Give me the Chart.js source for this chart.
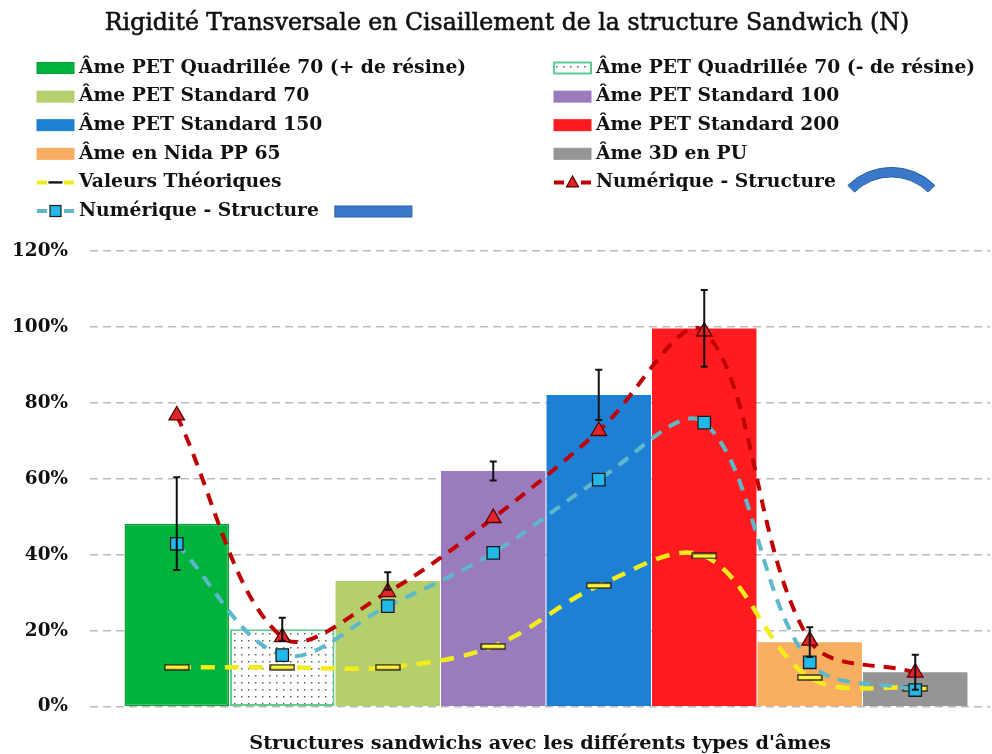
<!DOCTYPE html>
<html lang="fr">
<head>
<meta charset="utf-8">
<title>Rigidité Transversale en Cisaillement de la structure Sandwich</title>
<script src="https://cdn.jsdelivr.net/npm/chart.js@4.4.1/dist/chart.umd.min.js"></script>
<style>
  html, body { margin: 0; padding: 0; background: #ffffff; }
  #wrap { width: 992px; height: 754px; }
</style>
</head>
<body>
<div id="wrap"><canvas id="chart" width="992" height="754"></canvas></div>
<script>
// ---- Data -------------------------------------------------------------
const coreNames = [
  'Âme PET Quadrillée 70 (+ de résine)',
  'Âme PET Quadrillée 70 (- de résine)',
  'Âme PET Standard 70',
  'Âme PET Standard 100',
  'Âme PET Standard 150',
  'Âme PET Standard 200',
  'Âme en Nida PP 65',
  'Âme 3D en PU'
];
// Measured stiffness, relative to the PET Standard 200 core (%)
const measured = [48.2, 20.4, 33.1, 62.1, 82.1, 99.6, 17.0, 9.1];
const measuredError = [12.2, 3.0, 2.3, 2.5, 6.6, 10.1, 3.9, 4.6];
// Theoretical values (%)
const theoretical = [10.4, 10.4, 10.4, 15.9, 31.9, 39.7, 7.7, 4.8];
// Numerical model, curved structure (%)
const numericCurved = [76.7, 18.3, 30.2, 49.7, 72.6, 98.8, 17.4, 9.0];
// Numerical model, flat structure (%)
const numericFlat = [42.9, 13.6, 26.5, 40.5, 59.8, 74.8, 11.7, 4.4];
const yTicks = [0, 20, 40, 60, 80, 100, 120];
const lineNames = ['Valeurs Théoriques', 'Numérique - Structure', 'Numérique - Structure'];
const chartTitle = 'Rigidité Transversale en Cisaillement de la structure Sandwich (N)';
const xAxisTitle = "Structures sandwichs avec les différents types d'âmes";

// ---- Styling helpers ----------------------------------------------------
const FAMILY = '"DejaVu Serif", "Liberation Serif", serif';
const measureCtx = document.createElement('canvas').getContext('2d');
function fitSize(text, weight, width) {
  measureCtx.font = weight + ' 100px ' + FAMILY;
  return 100 * width / measureCtx.measureText(text).width;
}
const titleSize = fitSize(chartTitle, 'normal', 805);
const legendSize = fitSize(lineNames[1], 'bold', 240);
const axisTitleSize = fitSize(xAxisTitle, 'bold', 582);
const tickSize = fitSize('120%', 'bold', 56);

// white fill with a regular grid of small dots
function makeDotPattern() {
  const c = document.createElement('canvas');
  c.width = 7; c.height = 7;
  const g = c.getContext('2d');
  g.fillStyle = '#ffffff';
  g.fillRect(0, 0, 7, 7);
  g.fillStyle = '#56665b';
  g.fillRect(3, 3, 1.5, 1.5);
  return g.createPattern(c, 'repeat');
}
const dotPattern = makeDotPattern();

// flat yellow dash used as the theoretical-value marker
function makeDashMarker(w, h) {
  const c = document.createElement('canvas');
  c.width = w + 2; c.height = h + 2;
  const g = c.getContext('2d');
  g.fillStyle = '#FFF23A';
  g.fillRect(1, 1, w, h);
  g.strokeStyle = '#1a1a1a';
  g.lineWidth = 1.3;
  g.strokeRect(1, 1, w, h);
  return c;
}
const dashMarker = makeDashMarker(24, 5);

const barFill = ['#00B33C', dotPattern, '#B5CF6D', '#9A7BBE', '#1E80D5', '#FF1B1E', '#F8AE60', '#959595'];
const barEdge = ['#0C9C3C', '#5FCB8E', '#B5CF6D', '#9A7BBE', '#1E80D5', '#FF1B1E', '#F8AE60', '#959595'];
const barEdgeWidth = [1.5, 2, 0, 0, 0, 0, 0, 0];

const YELLOW = '#F3EC1C';
const RED = '#C00000';
const CYAN = '#5DB8CC';

const pts = arr => arr.map((v, i) => ({ x: i, y: v }));

// ---- Datasets -------------------------------------------------------------
const barSet = {
  type: 'bar',
  label: 'Rigidité mesurée',
  data: pts(measured),
  backgroundColor: barFill,
  borderColor: barEdge,
  borderWidth: barEdgeWidth,
  borderSkipped: false,
  barPercentage: 0.99,
  categoryPercentage: 1,
  grouped: false,
  order: 4
};
const theoSet = {
  type: 'line',
  label: lineNames[0],
  data: pts(theoretical),
  borderColor: YELLOW,
  borderWidth: 4.5,
  borderDash: [14, 10],
  tension: 0.35,
  fill: false,
  pointStyle: dashMarker,
  pointRadius: 6,
  order: 3
};
const flatSet = {
  type: 'line',
  label: lineNames[2],
  data: pts(numericFlat),
  borderColor: CYAN,
  borderWidth: 4,
  borderDash: [12, 9],
  tension: 0.35,
  fill: false,
  pointStyle: 'rect',
  pointRadius: 8.8,
  pointBackgroundColor: '#22B8E8',
  pointBorderColor: '#1a1a1a',
  pointBorderWidth: 1.3,
  order: 2
};
const curvedSet = {
  type: 'line',
  label: lineNames[1],
  data: pts(numericCurved),
  borderColor: RED,
  borderWidth: 4,
  borderDash: [12, 9],
  tension: 0.35,
  fill: false,
  pointStyle: 'triangle',
  pointRadius: 9,
  pointBackgroundColor: '#E0252A',
  pointBorderColor: '#5a0000',
  pointBorderWidth: 1.3,
  order: 1
};

// ---- Plugins ----------------------------------------------------------------
// vertical error bars on top of the measured bars
const errorBars = {
  id: 'errorBars',
  afterDatasetsDraw(chart) {
    const { ctx, scales: { x, y } } = chart;
    ctx.save();
    ctx.strokeStyle = '#111111';
    ctx.lineWidth = 2;
    measured.forEach((v, i) => {
      const px = x.getPixelForValue(i);
      const top = y.getPixelForValue(v + measuredError[i]);
      const bot = y.getPixelForValue(v - measuredError[i]);
      ctx.beginPath();
      ctx.moveTo(px, top); ctx.lineTo(px, bot);
      ctx.moveTo(px - 3.5, top); ctx.lineTo(px + 3.5, top);
      ctx.moveTo(px - 3.5, bot); ctx.lineTo(px + 3.5, bot);
      ctx.stroke();
    });
    ctx.restore();
  }
};

// title and two-column legend
const header = {
  id: 'header',
  afterDraw(chart) {
    const ctx = chart.ctx;
    ctx.save();
    ctx.fillStyle = '#111111';
    ctx.strokeStyle = '#111111';
    ctx.lineWidth = 0.6;
    ctx.textBaseline = 'middle';
    ctx.textAlign = 'center';
    ctx.font = 'normal ' + titleSize + 'px ' + FAMILY;
    ctx.fillText(chartTitle, 507, 24);
    ctx.strokeText(chartTitle, 507, 24);

    const colX = [37, 554];
    const row0 = 68, rowStep = 28.6, boxW = 37;
    const items = coreNames.map((name, i) => ({ kind: 'bar', text: name, i }));
    items.push({ kind: 'line', text: lineNames[0], ds: theoSet, marker: 'dash' });
    items.push({ kind: 'line', text: lineNames[1], ds: curvedSet, marker: 'tri', extra: 'arc' });
    items.push({ kind: 'line', text: lineNames[2], ds: flatSet, marker: 'sq', extra: 'plate' });

    ctx.font = 'bold ' + legendSize + 'px ' + FAMILY;
    ctx.textAlign = 'left';
    items.forEach((it, k) => {
      const x0 = colX[k % 2];
      const cy = row0 + Math.floor(k / 2) * rowStep;
      if (it.kind === 'bar') {
        ctx.fillStyle = barFill[it.i];
        ctx.fillRect(x0, cy - 5.5, boxW, 11);
        ctx.strokeStyle = barEdge[it.i];
        ctx.lineWidth = it.i === 1 ? 2 : 1;
        ctx.strokeRect(x0, cy - 5.5, boxW, 11);
      } else {
        ctx.strokeStyle = it.ds.borderColor;
        ctx.lineWidth = 4;
        ctx.beginPath();
        ctx.moveTo(x0, cy); ctx.lineTo(x0 + 10, cy);
        ctx.moveTo(x0 + 27, cy); ctx.lineTo(x0 + boxW, cy);
        ctx.stroke();
        const mx = x0 + boxW / 2;
        ctx.lineWidth = 1.2;
        ctx.strokeStyle = '#1a1a1a';
        if (it.marker === 'dash') {
          ctx.fillStyle = '#1a1a1a';
          ctx.fillRect(mx - 7, cy - 1.2, 14, 2.4);
        } else if (it.marker === 'sq') {
          ctx.fillStyle = '#22B8E8';
          ctx.fillRect(mx - 5.5, cy - 5.5, 11, 11);
          ctx.strokeRect(mx - 5.5, cy - 5.5, 11, 11);
        } else {
          ctx.fillStyle = '#E0252A';
          ctx.strokeStyle = '#5a0000';
          ctx.beginPath();
          ctx.moveTo(mx, cy - 6.5);
          ctx.lineTo(mx + 6, cy + 4.5);
          ctx.lineTo(mx - 6, cy + 4.5);
          ctx.closePath();
          ctx.fill(); ctx.stroke();
        }
      }
      ctx.fillStyle = '#111111';
      const tx = x0 + 42;
      ctx.fillText(it.text, tx, cy);
      const tEnd = tx + ctx.measureText(it.text).width;
      if (it.extra === 'arc') {
        // curved shell icon
        const cx = tEnd + 12 + 43.5, ccy = cy + 46.6, R = 61.6, t = 9.5;
        const a = Math.asin(43.5 / R);
        ctx.beginPath();
        ctx.arc(cx, ccy, R, -Math.PI / 2 - a, -Math.PI / 2 + a);
        ctx.arc(cx, ccy, R - t, -Math.PI / 2 + a, -Math.PI / 2 - a, true);
        ctx.closePath();
        ctx.fillStyle = '#3A78C9';
        ctx.fill();
        ctx.strokeStyle = '#2A5EA6';
        ctx.lineWidth = 1;
        ctx.stroke();
      } else if (it.extra === 'plate') {
        // flat plate icon
        ctx.fillStyle = '#3A78C9';
        ctx.fillRect(tEnd + 16, cy - 5, 77, 11);
        ctx.strokeStyle = '#2A5EA6';
        ctx.lineWidth = 1;
        ctx.strokeRect(tEnd + 16, cy - 5, 77, 11);
      }
    });
    ctx.restore();
  }
};

// ---- Chart ----------------------------------------------------------------
const chart = new Chart(document.getElementById('chart'), {
  data: { datasets: [barSet, theoSet, flatSet, curvedSet] },
  options: {
    responsive: false,
    animation: false,
    devicePixelRatio: 1,
    layout: { autoPadding: false, padding: { top: 251, left: 0, right: 2, bottom: 0 } },
    plugins: {
      legend: { display: false },
      title: { display: false },
      tooltip: { enabled: false }
    },
    scales: {
      x: {
        type: 'linear',
        offset: false,
        min: -0.8223,
        max: 7.7085,
        afterBuildTicks: s => { s.ticks = coreNames.map((_, i) => ({ value: i })); },
        ticks: { display: false },
        grid: { display: false, drawTicks: false, offset: false },
        border: { display: false },
        title: {
          display: true,
          text: xAxisTitle,
          color: '#111111',
          font: { family: FAMILY, weight: 'bold', size: axisTitleSize, lineHeight: 1 },
          padding: { top: 28, bottom: 0 }
        }
      },
      y: {
        min: 0,
        max: 120,
        afterBuildTicks: s => { s.ticks = yTicks.map(v => ({ value: v })); },
        afterFit: s => { s.width = 90; },
        ticks: {
          callback: v => v + '%',
          color: '#111111',
          padding: 22,
          font: { family: FAMILY, weight: 'bold', size: tickSize }
        },
        grid: { color: '#BBBBBB', lineWidth: 1.6, drawTicks: false },
        border: { display: false, dash: [8, 5] }
      }
    }
  },
  plugins: [errorBars, header]
});
</script>
</body>
</html>
